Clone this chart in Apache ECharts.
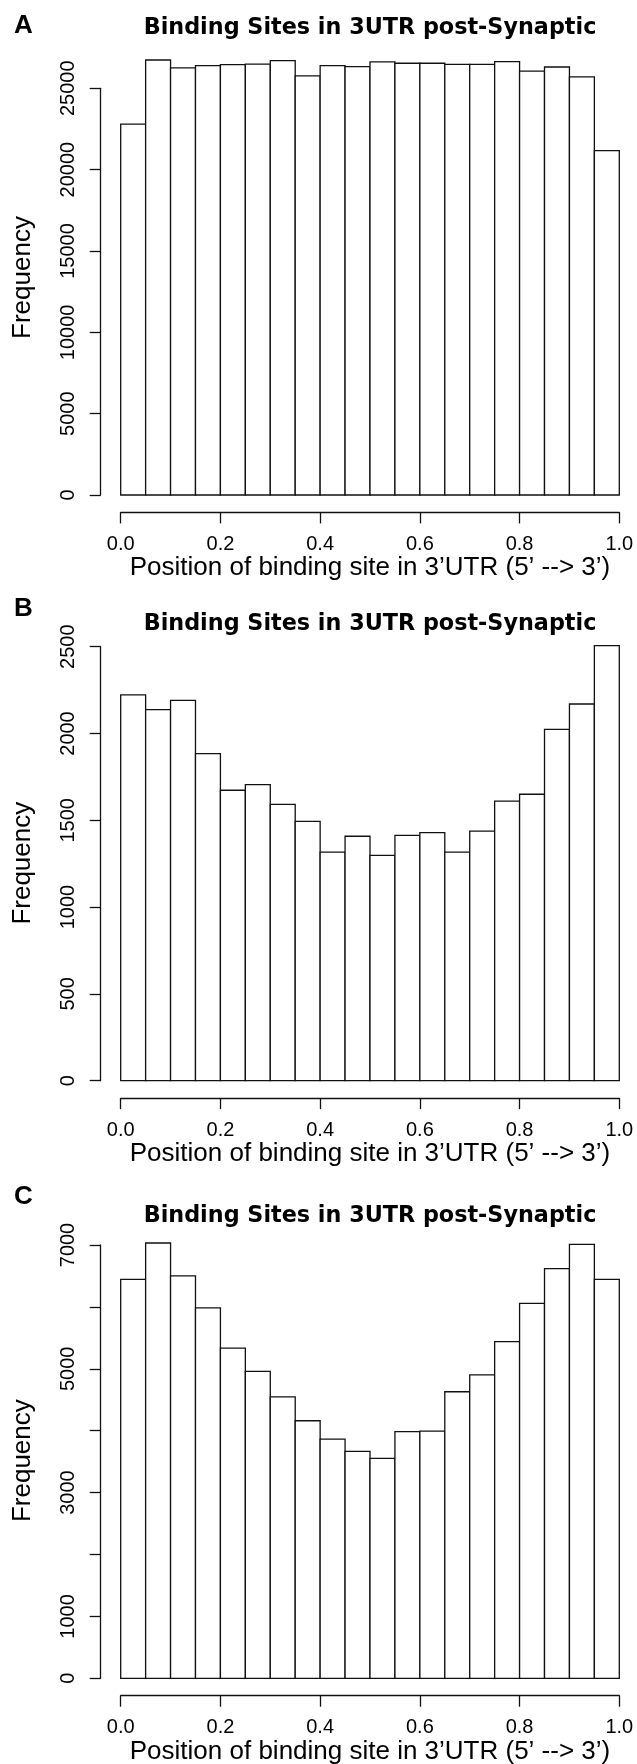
<!DOCTYPE html>
<html>
<head>
<meta charset="utf-8">
<script src="https://cdn.jsdelivr.net/npm/echarts@6/dist/echarts.min.js"></script>
<style>
  html, body { margin: 0; padding: 0; background: #fff; }
  #chart { width: 637px; height: 1764px; }
</style>
</head>
<body>
<div id="chart"></div>
<script>
// histogram bins (left edges), 20 bins of width 0.05
const binStarts = [0, 0.05, 0.1, 0.15, 0.2, 0.25, 0.3, 0.35, 0.4, 0.45,
                   0.5, 0.55, 0.6, 0.65, 0.7, 0.75, 0.8, 0.85, 0.9, 0.95];
const binWidth = 0.05;

// counts
const countsA = [22800, 26740, 26250, 26390, 26450, 26490, 26700, 25760, 26390, 26330,
                 26620, 26540, 26540, 26470, 26470, 26640, 26060, 26310, 25700, 21170];
const countsB = [2223, 2137, 2191, 1884, 1673, 1705, 1592, 1494, 1317, 1408,
                 1298, 1413, 1429, 1317, 1438, 1611, 1650, 2024, 2170, 2506];
const countsC = [6445, 7032, 6500, 5984, 5333, 4957, 4548, 4161, 3865, 3666,
                 3553, 3984, 3994, 4629, 4903, 5440, 6058, 6618, 7010, 6445];

const panelLetters = ["A", "B", "C"];
const titleText = "Binding Sites in 3UTR post-Synaptic";
const xTitle = "Position of binding site in 3\u2019UTR (5\u2019 --> 3\u2019)";
const yTitle = "Frequency";

// y tick settings per panel; C skips labels that would overlap in R
const yTickTop = [25000, 2500, 7000];
const yTickStep = [5000, 500, 1000];
const yLabelHidden = [[], [], [2000, 4000, 6000]];

// page layout (pixels)
const panels = [
  { counts: countsA, zeroY: 495, topTickY: 88.3, titleY: 28, letterY: 27 },
  { counts: countsB, zeroY: 1080.7, topTickY: 646.7, titleY: 624.5, letterY: 610 },
  { counts: countsC, zeroY: 1678.3, topTickY: 1245, titleY: 1216, letterY: 1197.5 },
];
const plotLeft = 120.7, plotRight = 619.3, axisX = 100.7;
const ink = "#111";
const labelFont = "Liberation Sans";

const chart = echarts.init(document.getElementById("chart"));

function renderBar(params, api) {
  const p0 = api.coord([api.value(0), 0]);
  const p1 = api.coord([api.value(1), api.value(2)]);
  return {
    type: "rect",
    shape: { x: p0[0], y: p1[1], width: p1[0] - p0[0], height: p0[1] - p1[1] },
    style: { fill: "#fff", stroke: ink, lineWidth: 1.3 },
  };
}

const grid = [], xAxis = [], yAxis = [], series = [], graphic = [];

panels.forEach((p, i) => {
  const ymax = Math.max(...p.counts);
  const k = (p.zeroY - p.topTickY) / yTickTop[i];
  // R plot region: data range padded 4% each side
  const regionTop = p.zeroY - 1.04 * ymax * k;
  const regionBottom = p.zeroY + 0.04 * ymax * k;

  grid.push({ left: plotLeft, width: plotRight - plotLeft, top: regionTop,
              height: regionBottom - regionTop, outerBoundsMode: "none" });
  grid.push({ left: axisX, width: 1, top: p.topTickY,
              height: p.zeroY - p.topTickY, outerBoundsMode: "none" });

  xAxis.push({
    gridIndex: 2 * i, type: "value", min: 0, max: 1, interval: 0.2, position: "bottom",
    axisLine: { show: true, onZero: false, lineStyle: { color: ink, width: 1.3 } },
    axisTick: { show: true, length: 11, lineStyle: { color: ink, width: 1.3 } },
    axisLabel: { show: true, margin: 22, color: "#000", fontSize: 20, fontFamily: labelFont,
                 showMinLabel: true, showMaxLabel: true, formatter: (v) => v.toFixed(1) },
    splitLine: { show: false },
    name: xTitle, nameLocation: "middle", nameGap: 41,
    nameTextStyle: { color: "#000", fontSize: 26, fontFamily: labelFont },
  });
  xAxis.push({ gridIndex: 2 * i + 1, type: "value", show: false });

  yAxis.push({
    gridIndex: 2 * i, type: "value", min: -0.04 * ymax, max: 1.04 * ymax,
    axisLine: { show: false }, axisTick: { show: false }, axisLabel: { show: false },
    splitLine: { show: false },
    name: yTitle, nameLocation: "middle", nameGap: 85,
    nameTextStyle: { color: "#000", fontSize: 26, fontFamily: labelFont },
  });
  yAxis.push({
    gridIndex: 2 * i + 1, type: "value", min: 0, max: yTickTop[i], interval: yTickStep[i],
    axisLine: { show: true, onZero: false, lineStyle: { color: ink, width: 1.3 } },
    axisTick: { show: true, length: 11, lineStyle: { color: ink, width: 1.3 } },
    axisLabel: {
      show: true, rotate: 90, margin: 32.5, align: "center", verticalAlign: "middle",
      color: "#000", fontSize: 20, fontFamily: labelFont,
      showMinLabel: true, showMaxLabel: true,
      formatter: (v) => (yLabelHidden[i].includes(v) ? "" : String(v)),
    },
    splitLine: { show: false },
  });

  series.push({
    type: "custom",
    xAxisIndex: 2 * i,
    yAxisIndex: 2 * i,
    renderItem: renderBar,
    encode: { x: [0, 1], y: 2 },
    data: binStarts.map((b, j) => [b, b + binWidth, p.counts[j]]),
    animation: false,
  });

  graphic.push({
    type: "text", left: 14, top: p.letterY - 14,
    style: { text: panelLetters[i], fill: "#000", font: "bold 26px 'Liberation Sans'" },
  });
  graphic.push({
    type: "text", x: (plotLeft + plotRight) / 2, y: p.titleY,
    style: { text: titleText, fill: "#000", font: "bold 22.3px 'DejaVu Sans'",
             textAlign: "center", textVerticalAlign: "middle" },
  });
});

chart.setOption({
  backgroundColor: "#fff",
  animation: false,
  grid: grid,
  xAxis: xAxis,
  yAxis: yAxis,
  series: series,
  graphic: graphic,
});
</script>
</body>
</html>
